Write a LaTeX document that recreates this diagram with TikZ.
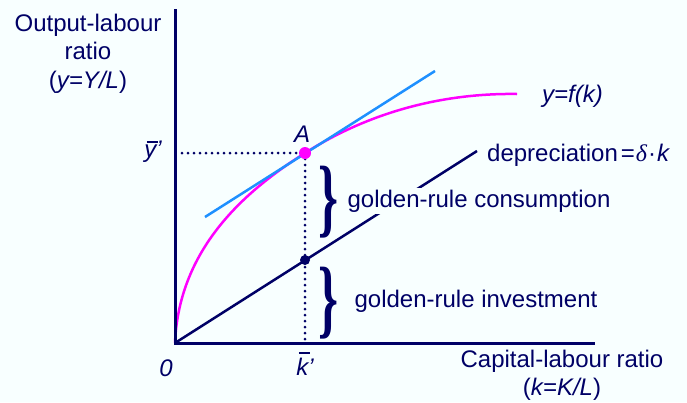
\documentclass[tikz,border=0pt]{standalone}
\usepackage{fontspec}
\usepackage{graphicx}
\setmainfont{Liberation Sans}
\newfontfamily\symfont{Liberation Serif}
\definecolor{navy}{RGB}{0,0,102}
\definecolor{bg}{RGB}{248,255,255}
\definecolor{mag}{RGB}{255,0,255}
\definecolor{tang}{RGB}{30,144,255}
\newcommand\barover[3]{\setbox0\hbox{#3}\makebox[0pt][l]{\hspace{#2}\raisebox{#1}{\rule{\dimexpr\wd0-1pt\relax}{1.8pt}}}\box0}
\begin{document}
\begin{tikzpicture}[x=1pt,y=-1pt,
  font=\fontsize{24}{28.5}\selectfont,
  every node/.style={text=navy, inner sep=0pt},
  axisline/.style={draw=navy, line width=3pt},
  dotline/.style={draw=navy, line width=3pt, line cap=round, dash pattern=on 0pt off 6pt},
  curveline/.style={line width=2.5pt},
  lbl/.style={anchor=base, fill=bg, inner sep=2pt},
  bracebox/.style={inner sep=0pt}]
\fill[bg] (0,0) rectangle (687,402);
\useasboundingbox (0,0) rectangle (687,402);
% coordinates
\coordinate (O) at (175,343);
\coordinate (ytop) at (175,9);
\coordinate (xend) at (595,343);
\coordinate (A) at (305,153);
\coordinate (B) at (305,260);
\coordinate (yA) at (182,153);
\coordinate (kA) at (305,340);
\coordinate (dend) at (477,151);
\coordinate (t1) at (205,217);
\coordinate (t2) at (435,71);
\coordinate (cend) at (517,94);
% depreciation line
\draw[navy, curveline] (O) -- (dend);
% production function
\draw[mag, curveline] (O) .. controls (179,245) and (250,188) .. (A) .. controls (375,108.5) and (450,93) .. (cend);
% tangent
\draw[tang, curveline] (t1) -- (t2);
% dotted guides
\draw[dotline] (yA) -- (A);
\draw[dotline] (A) -- (kA);
% axes
\draw[axisline] (ytop) -- (O) -- (xend);
% points
\fill[mag] (A) circle (6);
\fill[navy] (B) circle (5);
% braces
\node[bracebox] (br1) at (328,202) {\resizebox*{20pt}{72pt}{\symfont\bfseries\}}};
\node[bracebox] (br2) at (328,303) {\resizebox*{20pt}{72pt}{\symfont\bfseries\}}};
% labels
\node[lbl] (cons) at (479,207) {golden-rule consumption};
\node[lbl] (inv) at (476,307) {golden-rule investment};
\node[anchor=base] (Alab) at (302,142) {\itshape A};
\node[anchor=base] (ylab) at (153,157) {\itshape \barover{14pt}{2.5pt}{y}\char"27};
\node[anchor=base] (klab) at (305,375) {\itshape \barover{21.5pt}{2.5pt}{k}\char"27};
\node[anchor=base] (zero) at (166,376) {\itshape 0};
\node[anchor=base west] (flab) at (542,102) {\itshape y=f(k)};
\node[anchor=base west] (dlab) at (487,161) {depreciation\hspace{3pt}=\hspace{1pt}{\symfont\itshape δ}\hspace{1pt}·\hspace{1pt}\textit{k}};
\node[anchor=north, align=center] (ylabel) at (88,13.5) {Output-labour\\ratio\\(\textit{y=Y/L})};
\node[anchor=north, align=center] (xlabel) at (562,349.5) {Capital-labour ratio\\(\textit{k=K/L})};
\end{tikzpicture}
\end{document}
